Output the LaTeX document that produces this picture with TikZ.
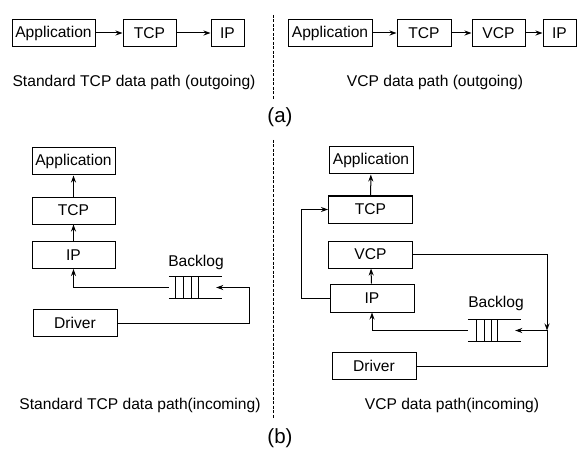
\documentclass[tikz,border=0pt]{standalone}
\usepackage{fontspec}
\setmainfont{Liberation Sans}
\usetikzlibrary{calc, positioning}
\usetikzlibrary{arrows.meta}

\tikzset{
  blk/.style={draw, line width=1pt, minimum height=27, inner sep=0pt, font=\fontsize{15.6}{17}\selectfont},
  lnk/.style={line width=1pt, -{Stealth[length=7pt, width=5pt]}},
  wire/.style={line width=1pt},
  lbl/.style={font=\fontsize{15.6}{17}\selectfont},
  tag/.style={font=\fontsize{20.5}{22}\selectfont},
  queue/.style={minimum width=53, minimum height=21, inner sep=0pt},
}

\begin{document}
\begin{tikzpicture}[x=1pt,y=-1pt]
\useasboundingbox (0,0) rectangle (585,462);

% separators
\draw[line width=0.8pt, dash pattern=on 3pt off 1.5pt] (273,15) -- (273,100);
\draw[line width=0.8pt, dash pattern=on 3pt off 1.5pt] (273,140) -- (273,418);
\node[tag] (ta) at (280,117) {(a)};
\node[tag] (tb) at (280,438) {(b)};

% outgoing, standard
\node[blk, minimum width=83] (appA) at (53.5,33) {Application};
\node[blk, minimum width=53] (tcpA) at (149.5,33) {TCP};
\node[blk, minimum width=33] (ipA) at (227.5,33) {IP};
\draw[lnk] (appA) -- (tcpA);
\draw[lnk] (tcpA) -- (ipA);
\node[lbl] (capA) at (134,82) {Standard TCP data path (outgoing)};

% outgoing, VCP
\node[blk, minimum width=84] (appB) at (330,33) {Application};
\node[blk, minimum width=54] (tcpB) at (424,33) {TCP};
\node[blk, minimum width=53] (vcpB) at (498.5,33) {VCP};
\node[blk, minimum width=33] (ipB) at (559.5,33) {IP};
\draw[lnk] (appB) -- (tcpB);
\draw[lnk] (tcpB) -- (vcpB);
\draw[lnk] (vcpB) -- (ipB);
\node[lbl] (capB) at (435,82) {VCP data path (outgoing)};

% incoming, standard
\node[blk, minimum width=83] (appC) at (73.5,161.5) {Application};
\node[blk, minimum width=83] (tcpC) at (73.5,210.5) {TCP};
\node[blk, minimum width=83] (ipC) at (73.5,255) {IP};
\node[blk, minimum width=84] (drvC) at (75,323) {Driver};
\node[queue] (qC) at (195.5,287.5) {};
\node[lbl] (blC) at (196,262) {Backlog};
\draw[wire] (qC.north west) -- (qC.north east);
\draw[wire] (qC.south west) -- (qC.south east);
\foreach \dx in {7,15,22.5,30}
  \draw[wire] ($(qC.north west)+(\dx,0)$) -- ($(qC.south west)+(\dx,0)$);
\coordinate (cornC) at (249,287.5);
\draw[lnk] (ipC) -- (tcpC);
\draw[lnk] (tcpC) -- (appC);
\draw[lnk] (qC.west) -- (qC.west -| ipC.south) -- (ipC.south);
\draw[lnk] (drvC.east) -| (cornC) -- ($(qC.east)+(-6,0)$);
\node[lbl] (capC) at (140,405) {Standard TCP data path(incoming)};

% incoming, VCP
\node[blk, minimum width=84] (appD) at (371,160.5) {Application};
\node[blk, minimum width=84] (tcpD) at (370.5,209.5) {TCP};
\node[blk, minimum width=84] (vcpD) at (370.5,254.5) {VCP};
\node[blk, minimum width=84, minimum height=28] (ipD) at (372,298) {IP};
\node[blk, minimum width=84] (drvD) at (374,366) {Driver};
\node[queue] (qD) at (494.5,330.5) {};
\node[lbl] (blD) at (496,303) {Backlog};
\draw[wire] (qD.north west) -- (qD.north east);
\draw[wire] (qD.south west) -- (qD.south east);
\foreach \dx in {9,17,24,30}
  \draw[wire] ($(qD.north west)+(\dx,0)$) -- ($(qD.south west)+(\dx,0)$);
\coordinate (cornD) at (547,330.5);
\draw[lnk] (tcpD) -- (appD);
\draw[lnk] (ipD) -- (vcpD);
\draw[lnk] (ipD.west) -- ++(-28,0) |- (tcpD.west);
\draw[lnk] (vcpD.east) -| (cornD);
\draw[lnk] (drvD.east) -| (cornD) -- ($(qD.east)+(-6,0)$);
\draw[lnk] (qD.west) -- (qD.west -| ipD.south) -- (ipD.south);
\node[lbl] (capD) at (452,405) {VCP data path(incoming)};
\end{tikzpicture}
\end{document}
